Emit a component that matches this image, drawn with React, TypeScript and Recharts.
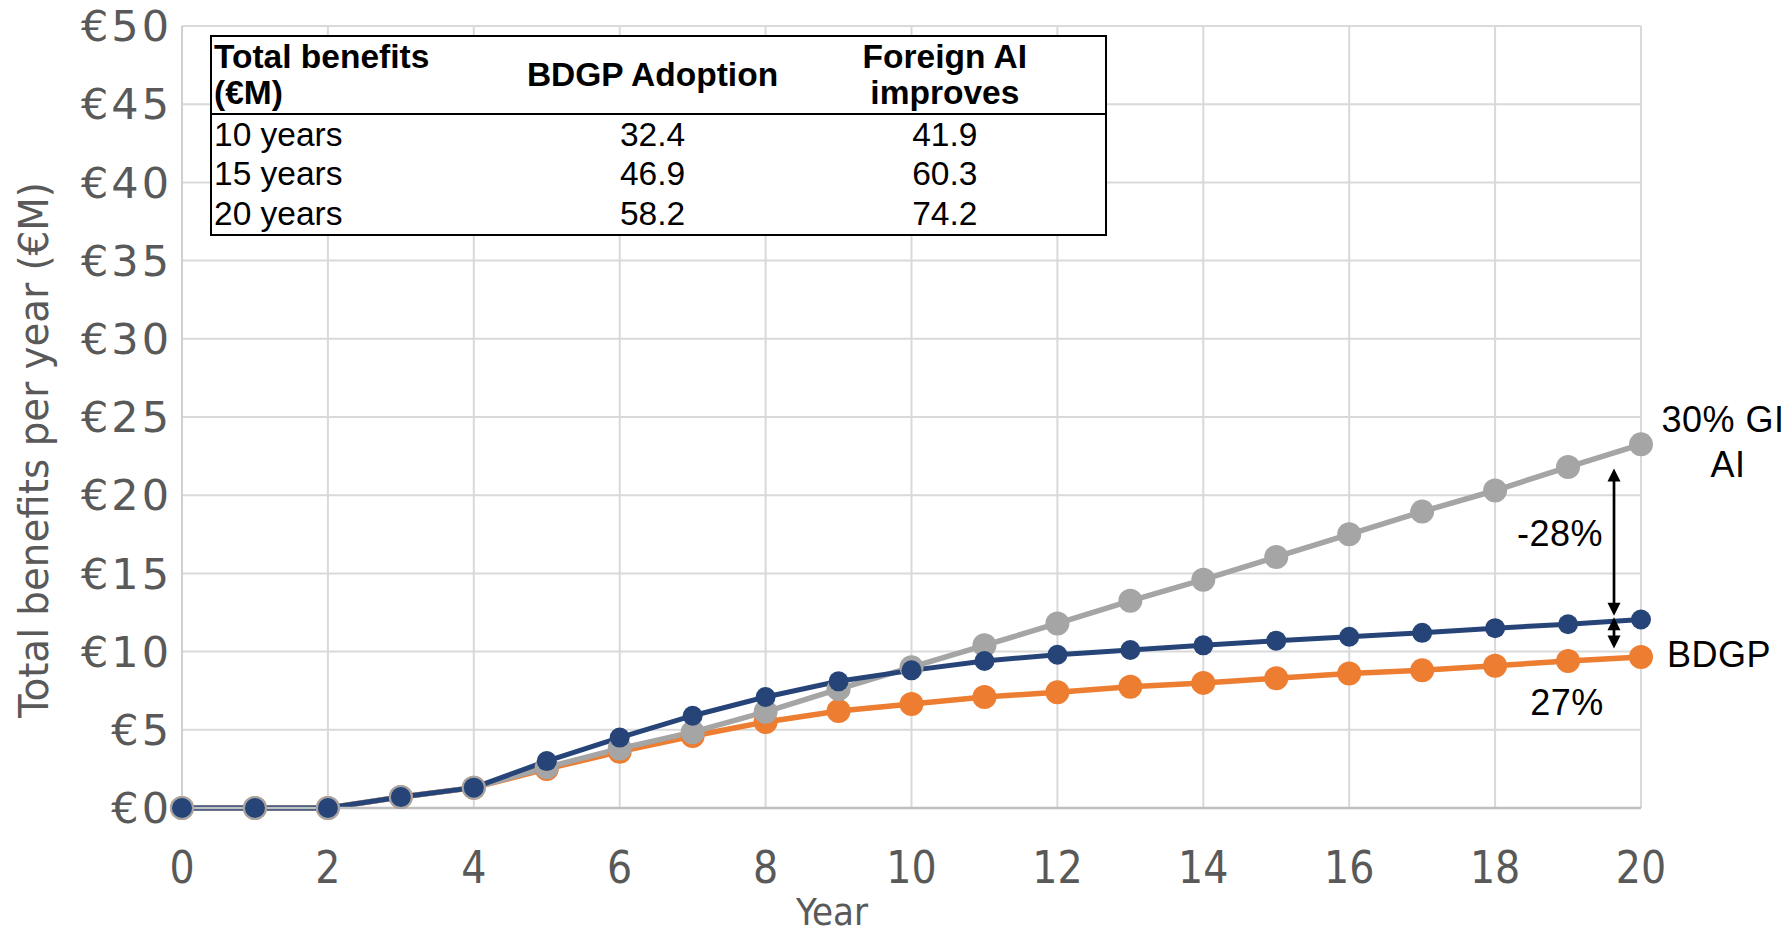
import React from 'react';
import { LineChart, Line, XAxis, YAxis, CartesianGrid, ReferenceLine } from 'recharts';

const years = [0, 1, 2, 3, 4, 5, 6, 7, 8, 9, 10, 11, 12, 13, 14, 15, 16, 17, 18, 19, 20];
const bdgpAdoption = [0, 0, 0, 0.7, 1.3, 3.0, 4.5, 5.9, 7.1, 8.1, 8.8, 9.4, 9.8, 10.1, 10.4, 10.7, 10.95, 11.2, 11.5, 11.75, 12.05];
const foreignAI = [0, 0, 0, 0.7, 1.3, 2.5, 3.6, 4.6, 5.5, 6.2, 6.65, 7.1, 7.4, 7.75, 8.0, 8.3, 8.6, 8.8, 9.1, 9.4, 9.65];
const giAI = [0, 0, 0, 0.7, 1.3, 2.6, 3.8, 4.85, 6.15, 7.6, 9.0, 10.4, 11.8, 13.25, 14.6, 16.05, 17.5, 18.95, 20.3, 21.8, 23.25];

const xTicks = [0, 2, 4, 6, 8, 10, 12, 14, 16, 18, 20];
const yTicks = [0, 5, 10, 15, 20, 25, 30, 35, 40, 45, 50];

const tableHeader = ['Total benefits\n(€M)', 'BDGP Adoption', 'Foreign AI\nimproves'];
const tableRows = ['10 years', '15 years', '20 years'];
const tableBdgp = ['32.4', '46.9', '58.2'];
const tableForeign = ['41.9', '60.3', '74.2'];

const arrowX = 19.63;
const arrowGap = [21.7, 12.3];
const arrowSmall = [12.2, 10.2];

const data = years.map((y, i) => ({
  year: y,
  bdgpAdoption: bdgpAdoption[i],
  foreignAI: foreignAI[i],
  giAI: giAI[i],
}));

const NAVY = '#264478';
const ORANGE = '#ED7D31';
const GRAY = '#A5A5A5';
const TEXT = '#595959';

const ArrowShape = (props: any) => {
  const { x1, y1, x2, y2 } = props;
  const top = Math.min(y1, y2);
  const bot = Math.max(y1, y2);
  const x = (x1 + x2) / 2;
  const h = 13;
  const w = 6.5;
  return (
    <g>
      <line x1={x} y1={top + h - 2} x2={x} y2={bot - h + 2} stroke="#000" strokeWidth={2.7} />
      <polygon points={`${x},${top} ${x - w},${top + h} ${x + w},${top + h}`} fill="#000" />
      <polygon points={`${x},${bot} ${x - w},${bot - h} ${x + w},${bot - h}`} fill="#000" />
    </g>
  );
};

const cellFont = "'Liberation Sans', Arial, sans-serif";
const narrowFont = "'Liberation Sans Narrow', 'DejaVu Sans Condensed', 'Liberation Sans', sans-serif";

export default function App() {
  return (
    <div style={{ position: 'absolute', left: 0, top: 0, width: 1787, height: 936, background: '#fff', overflow: 'hidden' }}>
      <LineChart width={1787} height={936} data={data} margin={{ top: 26, right: 146, bottom: 28, left: 32 }}>
        <CartesianGrid stroke="#D9D9D9" strokeWidth={2} />
        <XAxis
          dataKey="year"
          type="number"
          domain={[0, 20]}
          ticks={xTicks}
          height={100}
          tickSize={0}
          tickMargin={44}
          axisLine={{ stroke: '#BFBFBF', strokeWidth: 2.5 }}
          tickLine={false}
          tick={{ fill: TEXT, fontSize: 44, fontFamily: narrowFont }}
        />
        <YAxis
          type="number"
          domain={[0, 50]}
          ticks={yTicks}
          width={150}
          tickSize={0}
          tickMargin={10}
          axisLine={{ stroke: '#D0D0D0', strokeWidth: 2 }}
          tickLine={false}
          tickFormatter={(v: number) => '€' + v}
          tick={{ fill: TEXT, fontSize: 43, fontFamily: "'DejaVu Sans', sans-serif", letterSpacing: 3 }}
        />
        <Line
          dataKey="foreignAI"
          type="linear"
          stroke={ORANGE}
          strokeWidth={5.5}
          dot={{ r: 12, fill: ORANGE, stroke: ORANGE, strokeWidth: 0 }}
          isAnimationActive={false}
        />
        <Line
          dataKey="giAI"
          type="linear"
          stroke={GRAY}
          strokeWidth={5.5}
          dot={{ r: 12, fill: GRAY, stroke: GRAY, strokeWidth: 0 }}
          isAnimationActive={false}
        />
        <Line
          dataKey="bdgpAdoption"
          type="linear"
          stroke={NAVY}
          strokeWidth={5}
          dot={{ r: 10, fill: NAVY, stroke: NAVY, strokeWidth: 0 }}
          isAnimationActive={false}
        />
        <ReferenceLine
          segment={[{ x: arrowX, y: arrowGap[0] }, { x: arrowX, y: arrowGap[1] }]}
          ifOverflow="visible"
          shape={ArrowShape}
        />
        <ReferenceLine
          segment={[{ x: arrowX, y: arrowSmall[0] }, { x: arrowX, y: arrowSmall[1] }]}
          ifOverflow="visible"
          shape={ArrowShape}
        />
      </LineChart>

      <svg width={1787} height={936} style={{ position: 'absolute', left: 0, top: 0, pointerEvents: 'none' }}>
        <text
          x={0}
          y={0}
          transform="translate(34,450) rotate(-90)"
          textAnchor="middle"
          dominantBaseline="central"
          fontSize={40}
          fill={TEXT}
          fontFamily={narrowFont}
          textLength={536}
          lengthAdjust="spacingAndGlyphs"
        >
          Total benefits per year (€M)
        </text>
        <text x={832} y={912} textAnchor="middle" dominantBaseline="central" fontSize={38} fill={TEXT} fontFamily={narrowFont}>
          Year
        </text>
        <g fontFamily={cellFont} fontSize={36} fill="#000" letterSpacing={0.5}>
          <text x={1723} y={419} textAnchor="middle" dominantBaseline="central">30% GI</text>
          <text x={1728} y={464} textAnchor="middle" dominantBaseline="central">AI</text>
          <text x={1719} y={654} textAnchor="middle" dominantBaseline="central">BDGP</text>
          <text x={1560} y={533} textAnchor="middle" dominantBaseline="central">-28%</text>
          <text x={1567} y={702} textAnchor="middle" dominantBaseline="central">27%</text>
        </g>
      </svg>

      <div
        style={{
          position: 'absolute',
          left: 210,
          top: 35,
          width: 897,
          height: 201,
          boxSizing: 'border-box',
          border: '2.5px solid #000',
          background: '#fff',
          fontFamily: cellFont,
          color: '#000',
        }}
      >
        <table style={{ borderCollapse: 'collapse', width: '100%', height: '100%', tableLayout: 'fixed' }}>
          <colgroup>
            <col style={{ width: 308 }} />
            <col style={{ width: 264 }} />
            <col style={{ width: 320 }} />
          </colgroup>
          <thead>
            <tr style={{ height: 77, borderBottom: '2.5px solid #000' }}>
              {tableHeader.map((h, i) => (
                <th
                  key={i}
                  style={{
                    fontSize: 33.5,
                    fontWeight: 'bold',
                    lineHeight: '36px',
                    textAlign: i === 0 ? 'left' : 'center',
                    padding: i === 0 ? '0 0 0 2px' : 0,
                    whiteSpace: 'pre-line',
                    verticalAlign: 'middle',
                  }}
                >
                  {h}
                </th>
              ))}
            </tr>
          </thead>
          <tbody>
            {tableRows.map((r, i) => (
              <tr key={r} style={{ height: 40 }}>
                <td style={{ fontSize: 33.5, textAlign: 'left', padding: '0 0 0 2px', lineHeight: '38px' }}>{r}</td>
                <td style={{ fontSize: 33.5, textAlign: 'center', padding: 0, lineHeight: '38px' }}>{tableBdgp[i]}</td>
                <td style={{ fontSize: 33.5, textAlign: 'center', padding: 0, lineHeight: '38px' }}>{tableForeign[i]}</td>
              </tr>
            ))}
          </tbody>
        </table>
      </div>
    </div>
  );
}
